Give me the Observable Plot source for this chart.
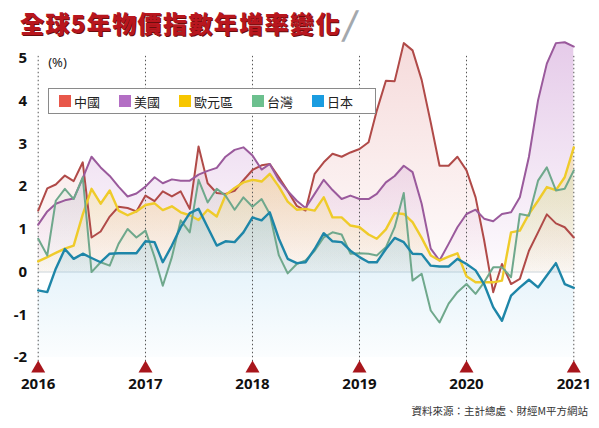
<!DOCTYPE html>
<html><head><meta charset="utf-8">
<script src="https://cdn.jsdelivr.net/npm/d3@7"></script>
<script src="https://cdn.jsdelivr.net/npm/@observablehq/plot@0.6"></script>
<style>
body{margin:0;background:#fff;width:599px;height:428px;overflow:hidden;font-family:"Noto Sans CJK TC","Noto Sans",sans-serif;}
#wrap{position:relative;width:599px;height:428px;}
#title{position:absolute;left:20px;top:8px;line-height:28px;font-size:24px;font-weight:900;color:#b8161e;letter-spacing:1.4px;white-space:nowrap;text-shadow:1px 1px 0 #6b0d0d;}
#slash{display:inline-block;color:#a3a8ad;font-weight:700;font-size:32px;transform:skewX(-12deg);margin-left:4px;text-shadow:none;vertical-align:-3px;}
#chart{position:absolute;left:0;top:40px;}
#legend{position:absolute;left:48px;top:88px;width:316px;height:24px;border:1px solid #8a8a8a;background:#fff;display:flex;align-items:center;padding-left:10px;box-sizing:content-box;font-size:13px;color:#222;}
#legend .it{display:flex;align-items:center;margin-right:19px;}
#legend .sw{width:12px;height:12px;margin-right:3px;}
#caption{position:absolute;right:11px;top:403px;font-size:10.5px;color:#333;white-space:nowrap;}
</style></head>
<body><div id="wrap">
<div id="title">全球5年物價指數年增率變化<span id="slash">/</span></div>
<div id="chart"></div>
<div id="legend"></div>
<div id="caption">資料來源：主計總處、財經M平方網站</div>
</div>
<script>
// categories
const seriesNames = ["中國","美國","歐元區","台灣","日本"];
const yearLabels = [2016,2017,2018,2019,2020,2021];
const yTicks = [-2,-1,0,1,2,3,4,5];
const startMonth = "2016-01-01";
const monthCount = 61;
// values (% YoY), monthly Jan 2016 – Jan 2021
const china = [1.44,1.96,2.05,2.26,2.13,2.57,0.81,0.95,1.3,1.53,1.5,1.42,1.79,1.66,1.89,1.77,1.89,1.48,2.94,2.08,1.85,1.83,1.9,2.15,2.39,2.5,2.53,2.22,1.9,1.55,1.44,2.3,2.57,2.77,2.7,2.8,2.88,3.04,3.78,4.48,4.47,5.36,5.19,4.5,3.5,2.49,2.49,2.7,2.38,1.75,0.75,-0.47,0.19,-0.28,-0.16,0.5,0.93,1.35,1.14,1.05,0.81];
const us = [1.11,1.42,1.6,1.68,1.72,2.2,2.7,2.45,2.25,2.0,1.77,1.84,2.0,2.22,2.08,2.17,2.14,2.14,2.28,2.37,2.44,2.7,2.86,2.92,2.73,2.4,2.53,2.15,1.9,1.67,1.5,1.83,2.16,1.92,1.71,1.79,1.71,1.71,1.83,2.1,2.25,2.49,2.34,1.6,0.55,0.27,0.66,1.05,1.36,1.46,1.25,1.19,1.36,1.4,1.75,2.7,4.02,4.88,5.36,5.38,5.28];
const euro = [0.25,0.35,0.45,0.55,0.62,1.35,1.95,1.6,1.91,1.44,1.33,1.42,1.57,1.61,1.45,1.54,1.4,1.33,1.22,1.46,1.3,1.8,1.97,2.1,2.16,2.12,2.3,2.0,1.65,1.46,1.48,1.44,1.75,1.28,1.28,1.09,1.05,0.88,0.78,1.0,1.38,1.36,1.17,0.8,0.39,0.27,0.36,0.44,-0.1,-0.24,-0.24,-0.24,-0.2,0.93,0.97,1.36,1.67,1.99,1.92,2.22,2.92];
const taiwan = [0.78,0.39,1.67,1.95,1.71,2.22,0.0,0.23,0.15,0.66,1.01,0.81,0.97,0.35,-0.32,0.35,1.21,0.93,2.16,1.63,1.95,1.79,1.46,1.75,1.53,1.71,1.36,0.39,-0.03,0.19,0.27,0.5,0.81,0.93,0.88,0.43,0.44,0.43,0.39,0.58,1.05,1.85,-0.2,-0.04,-0.9,-1.18,-0.74,-0.47,-0.28,-0.51,-0.24,0.11,0.11,-0.12,1.36,1.32,2.14,2.45,1.91,1.95,2.38];
const japan = [-0.43,-0.47,0.08,0.54,0.31,0.43,0.33,0.23,0.43,0.44,0.44,0.44,0.72,0.7,0.23,0.62,1.05,1.38,1.48,1.05,0.62,0.72,0.7,0.93,1.28,1.21,1.4,0.78,0.31,0.21,0.23,0.54,0.91,0.72,0.7,0.5,0.35,0.23,0.23,0.54,0.8,0.7,0.43,0.42,0.15,0.13,0.13,0.31,0.19,0.04,-0.28,-0.82,-1.14,-0.55,-0.36,-0.18,-0.36,-0.08,0.21,-0.28,-0.37];

const lineColors = ["#b04a48","#9a5a9c","#efcb2a","#6fa88c","#1e86a8"];
const swatchColors = ["#e8574a","#b36ec4","#f7c600","#6cc08e","#1a9ce0"];
const gradColors = ["#e28e8e","#c283cb","#f4d445","#8fd0a8","#7cc2e6"];

const t0 = new Date(startMonth);
const months = d3.range(monthCount).map(i => d3.utcMonth.offset(t0, i));
const years = yearLabels.map(y => new Date(`${y}-01-01`));
const values = [china, us, euro, taiwan, japan];
const ids = ["gCN","gUS","gEU","gTW","gJP"];

const areaMarks = values.map((arr, k) =>
  Plot.areaY(arr, {x: (d,i) => months[i], y1: k === 4 ? yTicks[0] : 0, y2: d => d, fill: `url(#${ids[k]})`, curve: "linear"})
);
const lineMarks = values.map((arr, k) =>
  Plot.lineY(arr, {x: (d,i) => months[i], y: d => d, stroke: lineColors[k], strokeWidth: (k===2||k===4) ? 2.4 : 2, curve: "linear"})
);

const chart = Plot.plot({
  width: 599, height: 356,
  marginLeft: 37.7, marginRight: 25.7, marginTop: 18, marginBottom: 39,
  style: {fontFamily: "'Noto Sans','Noto Sans CJK TC',sans-serif", background: "transparent"},
  x: {type: "utc", domain: [years[0], years[years.length-1]]},
  y: {domain: [yTicks[0], yTicks[yTicks.length-1]]},
  marks: [
    Plot.ruleY([0], {stroke: "#dde2e6", strokeWidth: 1.5}),
    ...areaMarks,
    Plot.ruleX(years, {x: d => d, y1: -2.1, y2: 5.05, stroke: "#555", strokeWidth: 1, strokeDasharray: "1.5,2.5"}),
    ...lineMarks,
    Plot.dot(years, {x: d => d, frameAnchor: "bottom", dy: 11, symbol: "triangle", r: 5.2, fill: "#a8161c", stroke: "none"}),
    Plot.axisX({ticks: years, tickFormat: d3.utcFormat("%Y"), tickSize: 0, tickPadding: 21, fontSize: 15, fontWeight: "bold", fill: "#111"}),
    Plot.axisY({ticks: yTicks, tickSize: 0, tickPadding: 11, fontSize: 15, fontWeight: "bold", fill: "#111", tickFormat: d => String(d)}),
    Plot.text(["(%)"], {x: () => years[0], y: () => yTicks[yTicks.length-1], dx: 10, dy: 4, textAnchor: "start", fontSize: 13, fill: "#222"})
  ]
});

// gradients in scale space
const ys = chart.scale("y");
const gradSpec = [
  {top: 5.4, bot: 0, o1: 0.32, o2: 0.03},
  {top: 5.4, bot: 0, o1: 0.42, o2: 0.03},
  {top: 3, bot: 0, o1: 0.34, o2: 0.04},
  {top: 2.5, bot: 0, o1: 0.15, o2: 0.02},
  {top: 1.5, bot: -2, o1: 0.3, o2: 0.03}
];
const svg = d3.select(chart.tagName.toLowerCase() === "svg" ? chart : chart.querySelector("svg"));
const defs = svg.insert("defs", ":first-child");
gradSpec.forEach((g, k) => {
  const lg = defs.append("linearGradient").attr("id", ids[k]).attr("gradientUnits", "userSpaceOnUse")
    .attr("x1", 0).attr("x2", 0).attr("y1", ys.apply(g.top)).attr("y2", ys.apply(g.bot));
  lg.append("stop").attr("offset", 0).attr("stop-color", gradColors[k]).attr("stop-opacity", g.o1);
  lg.append("stop").attr("offset", 1).attr("stop-color", gradColors[k]).attr("stop-opacity", g.o2);
});
document.getElementById("chart").appendChild(chart);

const lg = d3.select("#legend");
seriesNames.forEach((n, k) => {
  const it = lg.append("div").attr("class", "it");
  it.append("div").attr("class", "sw").style("background", swatchColors[k]);
  it.append("span").text(n);
});
</script>
</body></html>
